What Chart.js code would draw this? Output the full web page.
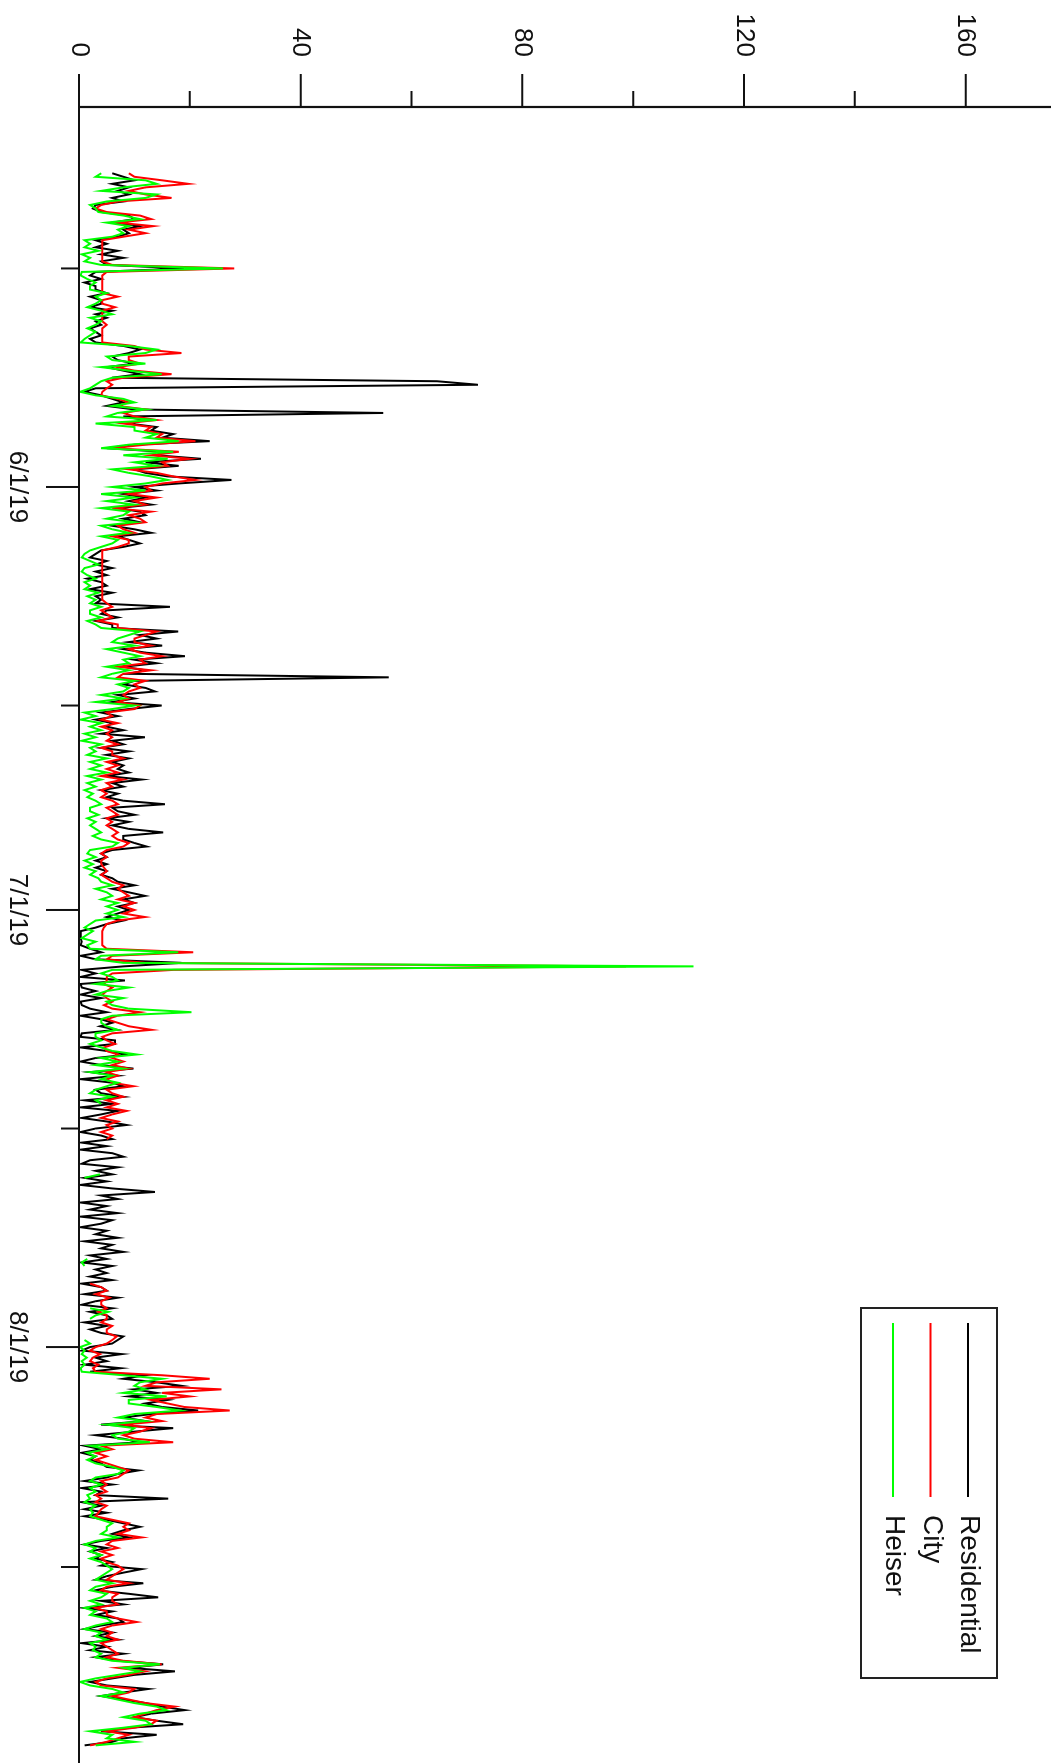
<!DOCTYPE html>
<html>
<head>
<meta charset="utf-8">
<script src="https://cdn.jsdelivr.net/npm/chart.js@4/dist/chart.umd.min.js"></script>
<style>
  html, body { margin: 0; padding: 0; background: #fff; overflow: hidden; }
  #wrap { position: relative; width: 1060px; height: 1763px; overflow: hidden; }
  /* plot is drawn landscape, then turned a quarter clockwise */
  #chart { position: absolute; left: 0; top: 0; transform-origin: 0 0; transform: translate(1060px, 0) rotate(90deg); }
</style>
</head>
<body>
<div id="wrap"><canvas id="chart" width="1763" height="1060"></canvas></div>
<script>
// ----------------- Data ------------------------//

// time in days from 6/1/19, one reading every 6 hours
const FIRST_DAY = -22.25
const STEP = 0.25

const _ = null // no reading

const residential = [
  6,
  8, 10, 6, 9,  7, 9, 6, 8,  3, 2.5, 4, 9,  10, 6, 11, 8,  9, 7, 3, 5,  3, 7, 4, 8,  4, 5, 19, 3,
  2, 4, 1, 3,  3, 5, 2, 4,  4, 2, 6, 3,  5, 3, 4, 2,  3, 4, 2, 3,  8, 11, 9, 6,  7, 10, 5, 8,
  11, 6, 64.6, 72,  3, 1, 4, 6,  8, 5, 10, 54.9,  8, 12, 9, 14,  13, 17, 15, 23.6,  10, 5, 15, 14,  22, 12, 18, 10,
  12, 16, 27.5, 18,  10, 14, 8, 12,  9, 13, 7, 11,  12, 8, 11, 6,  10, 13, 7, 9,  11, 8, 4, 3,  2, 5, 3, 6,
  3, 5, 1.5, 4,  5, 2, 6, 3,  4, 3, 16.4, 5,  4, 7, 3, 6,  6, 17.9, 11, 14,  9, 15, 8, 12,  19.1, 10, 14, 8,
  12, 9, 55.9, 10,  8, 12, 13.7, 7,  10, 6, 14.9, 9,  4, 7, 3, 6,  5, 8, 4, 11.9,  6, 8, 4, 9,  5, 9, 6, 8,
  7, 9, 5, 11.3,  6, 8, 4, 7,  5, 8, 15.5, 6,  7, 10, 5, 9,  6, 9, 15.2, 8,  8, 10, 12.2, 6,  4, 5, 3, 5,
  3, 5, 4, 6,  7, 10, 6, 9,  11.9, 8, 10, 7,  9, 7, 5, 8,  5, 3, 0.3, 0.3,  0.3, 0.5, 0.3, 2,  4, 0.3, 3, 18.5,
  8, 0.5, 3, 0.3,  8.3, 0.3, 0.5, 3,  0.3, 4, 0.3, 0.5,  2, 5, 0.3, 4,  6, 3.8, 6.8, 0.5,  0.3, 6.5, 6.5, 0.3,  5, 9, 3, 0.3,
  4, 9.8, 2, 7,  0.3, 6, 8, 3,  4, 8, 1, 6,  0.3, 7, 4, 0.5,  5, 8.6, 3, 0.3,  4, 6, 0.5, 5,  0.3, 6, 8, 2,
  0.5, 7, 3, 6,  1, 5, 0.3, 6,  13.7, 4, 7, 0.3,  5, 2, 7, 0.3,  6, 4, 0.3, 5,  3, 7, 1, 6,  4, 8, 2, 5,
  0.5, 6, 3, 5,  2, 6, 0.5, 4,  5, 1, 7, 3,  0.5, 6, 2, 5,  6, 1, 5, 2,  4, 8, 7, 6,  2, 0.5, 7.7, 3,
  5, 1, 7.5, 2,  12, 8, 14, 18.5,  10, 14, 9, 16,  12, 15, 21.5, 13,  8, 12, 4, 17,  10, 3, 8, 11,  1, 4, 0.5, 3,
  2, 4, 5, 10.7,  7, 5, 1, 6,  0.5, 4, 3, 16.1,  0.5, 4, 1, 5,  1, 5, 8, 11,  8, 6, 9, 4,  1, 5, 2, 4,
  3, 6, 4, 11.3,  8, 5, 3, 11.6,  6, 3, 9, 14.3,  4, 8, 1, 6,  3, 7, 8, 4,  1, 6, 3, 7,  0.5, 5, 2, 8,
  3, 7, 15.2, 9,  17.3, 10, 6, 2,  5, 12.5, 8, 4,  8, 12, 15, 19.1,  13, 10, 14, 18.8,  9, 4, 14, 8,
  6, 1,
]

const city = [
  9,
  10, 15, 19.7, 12,  9, 12, 16.7, 7,  4, 3, 5, 11,  13, 7, 13.4, 9,  12, 8, 4.2, 4.2,  4.2, 4.2, 4.2, 4.2,  4.2, 6, 28, 5,
  4.2, 4.2, 4.2, 4.2,  4.2, 4.2, 7, 4.2,  4.2, 6.5, 4.2, 4.2,  4.2, 4.2, 5, 4.2,  4.2, 4.2, 4.2, 4.2,  10, 12, 18.5, 9,  9, 11, 7, 10,
  16.7, 8, 5, 6,  5, 4.2, 4, 7,  9, 7, 12, 8,  10, 14, 8, 13,  12, 15, 14, 21,  12, 6, 18, 13,  20, 15, 16, 9,
  14, 17, 21, 15,  12, 13, 9, 14,  10, 12, 6, 13,  9, 11, 12, 7,  8, 10, 6, 9,  9, 7, 4.2, 4.2,  4.2, 4.2, 4.2, 4.2,
  4.2, 4.2, 4.2, 4.2,  4.2, 4.2, 4.2, 4.2,  4.2, 5, 6, 4,  5, 6, 3.5, 7,  7, 14, 12, 10,  10, 13, 9, 11,  15, 11, 12, 7,
  13, 8, 7, 12,  10, 11, 9, 8,  9, 7, 11, 10,  5, 6, 4, 7,  4, 6, 5, 6,  5, 7, 4, 6,  6, 8, 5, 7,
  5, 7, 4, 8,  5, 6, 4, 5,  4, 6, 7, 5,  6, 7, 5, 6,  5, 6, 7, 6,  7, 9, 8, 5,  4, 5, 4, 4,
  4.5, 5, 4, 5,  6, 8, 7, 8,  9, 7, 10, 8,  10, 8, 11.9, 7,  5, 4.5, 4.2, 4.2,  4.2, 4.2, 4.2, 5,  20.6, 6, 5, 12,
  98.7, 17, 6, 5,  5, 4.5, 6, 5,  4.2, 5, 6, 4.5,  6, 11, 7, 5,  7, 9, 13.1, 6,  4.2, 5, 6.5, 4.5,  5, 7, 6, 8,
  6, 9, 5, 7,  5, 6, 9.8, 5,  6, 8, 5, 7,  5, 8.6, 6, 4,  7, 5, 6, 4,  6, 5, _, _,  _, _, _, _,
  _, _, _, _,  _, _, _, _,  _, _, _, _,  _, _, _, _,  _, _, _, _,  _, _, _, _,  _, _, _, _,
  _, _, _, _,  _, _, 2, 4,  5, 3, 5.5, 4,  4, 5, 3.5, 5,  5, 4, 6, 5,  5, 6.8, 6, 5,  3, 2, 3.8, 2.5,
  2, 3.5, 2.5, 3,  15, 23.6, 14, 12,  25.7, 15, 20, 13,  16, 19, 27.2, 14,  12, 15, 8, 13,  11, 8, 10, 17,  4, 6, 3, 5,
  3, 5, 7, 9,  8, 7, 4, 5,  4, 5, 3, 4,  3, 5, 4, 3.5,  3, 6, 9, 8,  9, 7, 11.3, 6,  5, 7, 4, 6,
  4, 5, 7, 8,  7, 6, 5, 9,  5, 4, 7, 6,  6, 7, 3, 5,  5, 7, 10.4, 6,  4, 6, 5, 7,  4, 5, 6, 7,
  5, 8, 14.9, 7,  12, 9, 5, 3,  4, 10, 9, 6,  9, 12, 17.3, 14,  12, 10, 14, 13,  10, 5, 9, 7,
  5, 2,
]

const heiser = [
  4,
  3, 12, 14, 8,  4, 14, 12, 5,  2, 3, 3.5, 8,  11, 5, 9, 7,  8, 6, 1, 2,  1, 3.5, 0.5, 2,  1, 4, 26, 0.5,
  0.3, 1.5, 3, 2,  2, 5, 3, 4,  3, 1.5, 4, 6,  2, 4, 3, 1.5,  3, 2, 1, 0.3,  9, 14, 12, 5,  6, 12, 4, 9,
  14.9, 6, 4, 3,  2, 0.2, 3, 8,  10, 6, 12, 7,  5, 14, 3, 10,  10, 14, 12, 18,  9, 4, 17, 8,  16, 10, 14, 6,
  9, 13, 16, 12,  6, 12, 4, 10,  5, 10, 4, 9,  8, 5, 10, 4,  6, 9, 4, 7,  6, 4, 2, 1,  0.5, 2, 3.5, 1,
  0.5, 1.5, 3, 1,  2, 1, 3.5, 1.5,  3, 2, 4, 2,  2, 4, 1.5, 3,  4, 11, 9, 7,  6, 10, 5, 8,  11, 8, 9, 5,
  9, 6, 4, 10,  7, 9, 8, 4,  8, 3, 10, 6,  1, 3, 0.3, 4,  2, 4, 1, 3,  0.5, 4, 2, 3,  1.5, 5, 2, 4,
  2, 5, 1.5, 4,  1.5, 3, 1, 2.5,  1.5, 3, 4, 2,  2, 3.5, 1.5, 3,  2, 3, 4, 2.5,  4, 7, 6, 2,  1.5, 3, 1, 2.5,
  1, 3, 2, 3.5,  4, 6, 3, 5,  6, 4, 7, 5,  7, 5, 8, 3,  2, 1, 2.5, 1.5,  0.5, 3, 1.5, 2,  17.9, 4, 3, 8,
  110.9, 6, 4, 6,  7, 3, 9, 5,  3, 8, 5, 6,  9, 20.3, 6, 4,  4, 5, 7, 3,  3, 4, 2, 4,  6, 10.4, 4, 7,
  3, 8, 2, 6,  4, 7, 5, 3,  2, 6, 3, 4,  _, _, _, _,  _, _, _, _,  _, _, _, _,  _, _, _, _,
  _, _, _, 3.8,  1, _, _, _,  _, _, _, _,  _, _, _, _,  _, _, _, _,  _, _, _, _,  _, _, _, 1.5,
  0.5, 1, _, _,  _, _, _, _,  _, _, _, _,  _, 2, 5.3, 3,  2, _, _, _,  _, _, 1, 2,  0.2, 1, 0.5, 1.4,
  0.5, 1, 0.3, 0.5,  8, 15, 11, 10,  12, 8, 15.8, 9,  9, 14, 18.2, 10,  7, 12, 5, 10,  9, 6, 7, 12.8,  2, 5, 1.5, 3,
  1.5, 3, 6, 8,  7, 3, 2, 4,  2, 3, 1.5, 2,  1, 3, 2, 2.5,  2, 4, 6, 5,  5, 4, 7, 3,  1, 3, 2, 4,
  2, 4, 5, 6,  5, 4, 3, 6,  3, 2, 5, 4,  2, 4, 1, 3,  2, 5, 6, 3,  1, 4, 3, 5,  2, 3, 2.5, 4,
  3, 6, 14.6, 8,  11, 7, 3, 0.2,  2, 6, 8, 4,  7, 10, 14, 15.8,  11, 8, 12, 13,  8, 2, 6, 5,
  10.1, 3,
]

const seriesNames = ['Residential', 'City', 'Heiser']
const seriesColors = ['#000000', '#ff0000', '#00ff00']

// axis ticks
const valueTicks = [0, 40, 80, 120, 160]
const valueMinorTicks = [20, 60, 100, 140]
const dateTicks = [0, 30, 61]
const dateLabels = ['6/1/19', '7/1/19', '8/1/19']
const dateMinorTicks = [-15.5, 15.5, 45.5, 76.6]

// ----------------- Chart ------------------------//

const FONT = '26px "Liberation Sans", Arial, sans-serif'
const LEGEND_FONT = '28px "Liberation Sans", Arial, sans-serif'

const toPoints = (values) => values.map((v, i) => ({ x: FIRST_DAY + i * STEP, y: v }))

// box, ticks, labels and legend, placed through the chart scales
const axesPlugin = {
  id: 'axesPlugin',
  afterDraw(chart) {
    const ctx = chart.ctx
    const area = chart.chartArea
    const xs = chart.scales.x
    const ys = chart.scales.y
    const y0 = ys.getPixelForValue(0)

    ctx.save()
    ctx.strokeStyle = '#111'
    ctx.lineWidth = 2.2
    ctx.lineCap = 'butt'

    // L shaped box
    ctx.beginPath()
    ctx.moveTo(area.left, area.top)
    ctx.lineTo(area.left, y0)
    ctx.lineTo(area.right, y0)
    ctx.stroke()

    // value axis
    ctx.lineWidth = 2
    ctx.beginPath()
    valueTicks.forEach((v) => {
      const py = ys.getPixelForValue(v)
      ctx.moveTo(area.left, py)
      ctx.lineTo(area.left - 33, py)
    })
    valueMinorTicks.forEach((v) => {
      const py = ys.getPixelForValue(v)
      ctx.moveTo(area.left, py)
      ctx.lineTo(area.left - 16, py)
    })
    // date axis
    dateTicks.forEach((d) => {
      const px = xs.getPixelForValue(d)
      ctx.moveTo(px, y0)
      ctx.lineTo(px, y0 + 33)
    })
    dateMinorTicks.forEach((d) => {
      const px = xs.getPixelForValue(d)
      ctx.moveTo(px, y0)
      ctx.lineTo(px, y0 + 18)
    })
    ctx.stroke()

    ctx.fillStyle = '#111'
    ctx.font = FONT
    ctx.textBaseline = 'middle'
    ctx.textAlign = 'right'
    valueTicks.forEach((v) => {
      ctx.fillText(String(v), area.left - 50, ys.getPixelForValue(v))
    })
    ctx.textAlign = 'center'
    dateTicks.forEach((d, i) => {
      ctx.fillText(dateLabels[i], xs.getPixelForValue(d), y0 + 62)
    })

    // legend
    const box = { left: 1308, top: 63, width: 370, height: 136 }
    ctx.strokeStyle = '#222'
    ctx.strokeRect(box.left, box.top, box.width, box.height)
    const rows = [92, 129.5, 167]
    ctx.font = LEGEND_FONT
    seriesNames.forEach((name, i) => {
      ctx.strokeStyle = seriesColors[i]
      ctx.beginPath()
      ctx.moveTo(1323, rows[i])
      ctx.lineTo(1497, rows[i])
      ctx.stroke()
      ctx.fillStyle = '#111'
      ctx.textAlign = 'left'
      ctx.fillText(name, 1515, rows[i] - 1)
    })
    ctx.restore()
  },
}

const plotData = () => {
  const canvas = document.getElementById('chart')
  const series = [residential, city, heiser]

  new Chart(canvas, {
    type: 'line',
    data: {
      datasets: series.map((values, i) => ({
        label: seriesNames[i],
        data: toPoints(values),
        borderColor: seriesColors[i],
        borderWidth: 2,
        pointRadius: 0,
        tension: 0,
        spanGaps: false,
        order: 2 - i, // Heiser on top, Residential underneath
      })),
    },
    options: {
      responsive: false,
      animation: false,
      devicePixelRatio: 1,
      layout: { padding: { left: 107, top: 9, right: 0, bottom: 79 } },
      scales: {
        x: { type: 'linear', min: -26.95, max: 90.5, display: false },
        y: { type: 'linear', min: 0, max: 175.4, display: false },
      },
      plugins: {
        legend: { display: false },
        tooltip: { enabled: false },
      },
    },
    plugins: [axesPlugin],
  })
}

plotData()
</script>
</body>
</html>
